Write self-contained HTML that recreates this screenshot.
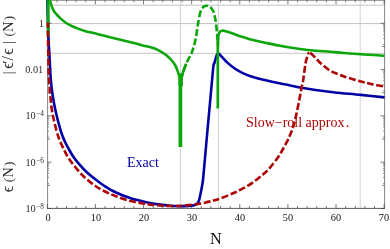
<!DOCTYPE html>
<html><head><meta charset="utf-8"><title>plot</title>
<style>
html,body{margin:0;padding:0;background:#fff;}
body{width:390px;height:249px;position:relative;overflow:hidden;font-family:"Liberation Serif",serif;}
.t{will-change:transform;position:absolute;white-space:nowrap;line-height:1;}
.sup{font-size:70%;position:relative;top:-0.55em;}
.rot{transform:translate(-50%,-50%) rotate(-90deg);}
</style></head><body>
<svg width="390" height="249" viewBox="0 0 390 249" style="position:absolute;left:0;top:0;will-change:transform"><defs><clipPath id="c"><rect x="46" y="0" width="339.8" height="209.5"/></clipPath></defs><line x1="180.4" y1="1" x2="180.4" y2="208" stroke="#d6d6d6" stroke-width="1.1"/><line x1="218.4" y1="1" x2="218.4" y2="208" stroke="#d6d6d6" stroke-width="1.1"/><line x1="360.2" y1="1" x2="360.2" y2="208" stroke="#d6d6d6" stroke-width="1.1"/><line x1="47" y1="5.2" x2="384" y2="5.2" stroke="#c4c4c4" stroke-width="1"/><line x1="47" y1="23.6" x2="384" y2="23.6" stroke="#c4c4c4" stroke-width="1"/><line x1="47" y1="53.3" x2="384" y2="53.3" stroke="#c4c4c4" stroke-width="1"/><path d="M47.6 0 V208.4 M384.6 0 V208.4 M47.2 0.3 H384.9" fill="none" stroke="#464646" stroke-width="0.66"/><path d="M47.2 208.4 H384.9" fill="none" stroke="#464646" stroke-width="0.9"/><path d="M47.5 163.50 h1.6 M384.6 163.50 h-1.6 M47.5 164.80 h1.6 M384.6 164.80 h-1.6 M47.5 166.40 h1.6 M384.6 166.40 h-1.6 M47.5 168.50 h1.6 M384.6 168.50 h-1.6 M47.5 170.70 h1.6 M384.6 170.70 h-1.6 M47.5 173.40 h1.6 M384.6 173.40 h-1.6 M47.5 177.40 h1.6 M384.6 177.40 h-1.6 M47.5 183.30 h1.6 M384.6 183.30 h-1.6 M47.5 117.20 h1.6 M384.6 117.20 h-1.6 M47.5 118.50 h1.6 M384.6 118.50 h-1.6 M47.5 120.10 h1.6 M384.6 120.10 h-1.6 M47.5 122.20 h1.6 M384.6 122.20 h-1.6 M47.5 124.40 h1.6 M384.6 124.40 h-1.6 M47.5 127.10 h1.6 M384.6 127.10 h-1.6 M47.5 131.10 h1.6 M384.6 131.10 h-1.6 M47.5 137.00 h1.6 M384.6 137.00 h-1.6 M47.5 70.90 h1.6 M384.6 70.90 h-1.6 M47.5 72.20 h1.6 M384.6 72.20 h-1.6 M47.5 73.80 h1.6 M384.6 73.80 h-1.6 M47.5 75.90 h1.6 M384.6 75.90 h-1.6 M47.5 78.10 h1.6 M384.6 78.10 h-1.6 M47.5 80.80 h1.6 M384.6 80.80 h-1.6 M47.5 84.80 h1.6 M384.6 84.80 h-1.6 M47.5 90.70 h1.6 M384.6 90.70 h-1.6 M47.5 24.60 h1.6 M384.6 24.60 h-1.6 M47.5 25.90 h1.6 M384.6 25.90 h-1.6 M47.5 27.50 h1.6 M384.6 27.50 h-1.6 M47.5 29.60 h1.6 M384.6 29.60 h-1.6 M47.5 31.80 h1.6 M384.6 31.80 h-1.6 M47.5 34.50 h1.6 M384.6 34.50 h-1.6 M47.5 38.50 h1.6 M384.6 38.50 h-1.6 M47.5 44.40 h1.6 M384.6 44.40 h-1.6" fill="none" stroke="#464646" stroke-width="0.55"/><path d="M47.3 208.4 v-4.4 M47.3 0.3 v4.0 M56.92 208.4 v-2.4 M56.92 0.3 v2.0 M66.55 208.4 v-2.4 M66.55 0.3 v2.0 M76.17 208.4 v-2.4 M76.17 0.3 v2.0 M85.8 208.4 v-2.4 M85.8 0.3 v2.0 M95.42 208.4 v-4.4 M95.42 0.3 v4.0 M105.04 208.4 v-2.4 M105.04 0.3 v2.0 M114.67 208.4 v-2.4 M114.67 0.3 v2.0 M124.29 208.4 v-2.4 M124.29 0.3 v2.0 M133.92 208.4 v-2.4 M133.92 0.3 v2.0 M143.54 208.4 v-4.4 M143.54 0.3 v4.0 M153.16 208.4 v-2.4 M153.16 0.3 v2.0 M162.79 208.4 v-2.4 M162.79 0.3 v2.0 M172.41 208.4 v-2.4 M172.41 0.3 v2.0 M182.04 208.4 v-2.4 M182.04 0.3 v2.0 M191.66 208.4 v-4.4 M191.66 0.3 v4.0 M201.28 208.4 v-2.4 M201.28 0.3 v2.0 M210.91 208.4 v-2.4 M210.91 0.3 v2.0 M220.53 208.4 v-2.4 M220.53 0.3 v2.0 M230.16 208.4 v-2.4 M230.16 0.3 v2.0 M239.78 208.4 v-4.4 M239.78 0.3 v4.0 M249.4 208.4 v-2.4 M249.4 0.3 v2.0 M259.03 208.4 v-2.4 M259.03 0.3 v2.0 M268.65 208.4 v-2.4 M268.65 0.3 v2.0 M278.28 208.4 v-2.4 M278.28 0.3 v2.0 M287.9 208.4 v-4.4 M287.9 0.3 v4.0 M297.52 208.4 v-2.4 M297.52 0.3 v2.0 M307.15 208.4 v-2.4 M307.15 0.3 v2.0 M316.77 208.4 v-2.4 M316.77 0.3 v2.0 M326.4 208.4 v-2.4 M326.4 0.3 v2.0 M336.02 208.4 v-4.4 M336.02 0.3 v4.0 M345.64 208.4 v-2.4 M345.64 0.3 v2.0 M355.27 208.4 v-2.4 M355.27 0.3 v2.0 M364.89 208.4 v-2.4 M364.89 0.3 v2.0 M374.52 208.4 v-2.4 M374.52 0.3 v2.0 M384.14 208.4 v-4.4 M384.14 0.3 v4.0 M47.5 208.5 h4 M384.6 208.5 h-4 M47.5 185.35 h2.5 M384.6 185.35 h-2.5 M47.5 162.2 h4 M384.6 162.2 h-4 M47.5 139.05 h2.5 M384.6 139.05 h-2.5 M47.5 115.9 h4 M384.6 115.9 h-4 M47.5 92.75 h2.5 M384.6 92.75 h-2.5 M47.5 69.6 h4 M384.6 69.6 h-4 M47.5 46.45 h2.5 M384.6 46.45 h-2.5 M47.5 23.3 h4 M384.6 23.3 h-4" fill="none" stroke="#464646" stroke-width="0.72"/><g clip-path="url(#c)" fill="none" stroke-linejoin="round"><path d="M47.30 -6.00 C47.37 -2.50 47.48 7.33 47.70 15.00 C47.92 22.67 48.27 32.50 48.60 40.00 C48.93 47.50 49.37 53.83 49.70 60.00 C50.03 66.17 50.12 71.17 50.60 77.00 C51.08 82.83 51.73 89.17 52.60 95.00 C53.47 100.83 54.43 106.00 55.80 112.00 C57.17 118.00 59.33 126.17 60.80 131.00 C62.27 135.83 63.23 137.92 64.60 141.00 C65.97 144.08 67.52 146.83 69.00 149.50 C70.48 152.17 71.92 154.68 73.50 157.00 C75.08 159.32 76.42 160.98 78.50 163.40 C80.58 165.82 83.32 168.93 86.00 171.50 C88.68 174.07 91.63 176.47 94.60 178.80 C97.57 181.13 100.33 183.27 103.80 185.50 C107.27 187.73 110.90 190.07 115.40 192.20 C119.90 194.33 125.67 196.63 130.80 198.30 C135.93 199.97 141.33 201.15 146.20 202.20 C151.07 203.25 155.97 204.02 160.00 204.60 C164.03 205.18 167.07 205.45 170.40 205.70 C173.73 205.95 177.43 206.03 180.00 206.10 C182.57 206.17 183.97 206.15 185.80 206.10 C187.63 206.05 189.47 205.97 191.00 205.80 C192.53 205.63 194.00 205.43 195.00 205.10 C196.00 204.77 196.45 204.28 197.00 203.80 C197.55 203.32 197.90 203.00 198.30 202.20 C198.70 201.40 199.05 200.28 199.40 199.00 C199.75 197.72 199.98 196.53 200.40 194.50 C200.82 192.47 201.42 189.72 201.90 186.80 C202.38 183.88 202.53 184.63 203.30 177.00 C204.07 169.37 205.42 153.00 206.50 141.00 C207.58 129.00 208.68 117.17 209.80 105.00 C210.92 92.83 212.45 74.92 213.20 68.00 C213.95 61.08 213.97 64.83 214.30 63.50 C214.63 62.17 214.82 61.33 215.20 60.00 C215.58 58.67 216.20 56.52 216.60 55.50 C217.00 54.48 217.30 54.23 217.60 53.90 C217.90 53.57 218.27 53.57 218.40 53.50 " stroke="#0000a6" stroke-width="2.6"/><path d="M218.40 53.50 C218.58 53.63 218.90 53.72 219.50 54.30 C220.10 54.88 220.68 55.62 222.00 57.00 C223.32 58.38 225.22 60.63 227.40 62.60 C229.58 64.57 232.53 67.05 235.10 68.80 C237.67 70.55 240.23 71.87 242.80 73.10 C245.37 74.33 247.93 75.30 250.50 76.20 C253.07 77.10 255.65 77.82 258.20 78.50 C260.75 79.18 263.50 79.75 265.80 80.30 C268.10 80.85 268.67 81.08 272.00 81.80 C275.33 82.52 280.82 83.60 285.80 84.60 C290.78 85.60 296.70 86.87 301.90 87.80 C307.10 88.73 311.48 89.42 317.00 90.20 C322.52 90.98 327.70 91.72 335.00 92.50 C342.30 93.28 352.53 94.08 360.80 94.90 C369.07 95.72 380.63 96.98 384.60 97.40" stroke="#0000a6" stroke-width="2.6"/><path d="M48.2 36 V-5" stroke="#0aa60a" stroke-width="3"/><path d="M49.20 -8.00 C49.33 -6.67 49.70 -2.00 50.00 0.00 C50.30 2.00 50.62 2.72 51.00 4.00 C51.38 5.28 51.77 6.45 52.30 7.70 C52.83 8.95 53.40 10.28 54.20 11.50 C55.00 12.72 55.97 13.77 57.10 15.00 C58.23 16.23 59.62 17.65 61.00 18.90 C62.38 20.15 63.90 21.47 65.40 22.50 C66.90 23.53 68.65 24.38 70.00 25.10 C71.35 25.82 72.17 26.22 73.50 26.80 C74.83 27.38 76.13 27.92 78.00 28.60 C79.87 29.28 81.48 30.02 84.70 30.90 C87.92 31.78 93.12 32.85 97.30 33.90 C101.48 34.95 105.62 36.15 109.80 37.20 C113.98 38.25 118.20 39.20 122.40 40.20 C126.60 41.20 131.23 42.23 135.00 43.20 C138.77 44.17 142.50 45.35 145.00 46.00 C147.50 46.65 147.88 46.47 150.00 47.10 C152.12 47.73 155.13 48.57 157.70 49.80 C160.27 51.03 163.35 53.03 165.40 54.50 C167.45 55.97 168.73 57.35 170.00 58.60 C171.27 59.85 172.12 60.85 173.00 62.00 C173.88 63.15 174.63 64.28 175.30 65.50 C175.97 66.72 176.48 68.00 177.00 69.30 C177.52 70.60 177.97 71.93 178.40 73.30 C178.83 74.67 179.40 76.80 179.60 77.50" stroke="#0aa60a" stroke-width="2.6"/><path d="M181.60 77.50 C181.75 76.92 182.10 75.33 182.50 74.00 C182.90 72.67 183.38 71.22 184.00 69.50 C184.62 67.78 185.37 65.62 186.20 63.70 C187.03 61.78 188.13 59.67 189.00 58.00 C189.87 56.33 190.73 55.20 191.40 53.70 C192.07 52.20 192.48 50.62 193.00 49.00 C193.52 47.38 193.97 46.17 194.50 44.00 C195.03 41.83 195.70 38.83 196.20 36.00 C196.70 33.17 197.08 29.67 197.50 27.00 C197.92 24.33 198.28 22.25 198.70 20.00 C199.12 17.75 199.53 15.25 200.00 13.50 C200.47 11.75 200.98 10.55 201.50 9.50 C202.02 8.45 202.52 7.77 203.10 7.20 C203.68 6.63 204.33 6.33 205.00 6.10 C205.67 5.87 206.35 5.73 207.10 5.80 C207.85 5.87 208.77 6.08 209.50 6.50 C210.23 6.92 210.92 7.58 211.50 8.30 C212.08 9.02 212.55 9.88 213.00 10.80 C213.45 11.72 213.85 12.60 214.20 13.80 C214.55 15.00 214.82 16.47 215.10 18.00 C215.38 19.53 215.65 21.17 215.90 23.00 C216.15 24.83 216.38 27.00 216.60 29.00 C216.82 31.00 217.03 33.17 217.20 35.00 C217.37 36.83 217.53 39.17 217.60 40.00" stroke="#0aa60a" stroke-width="2.6" stroke-dasharray="6.8 2.6" stroke-dashoffset="2.7"/><path d="M181.60 77.50 C181.75 76.92 182.10 75.33 182.50 74.00 C182.90 72.67 183.38 71.22 184.00 69.50 C184.62 67.78 185.83 64.67 186.20 63.70" stroke="#0aa60a" stroke-width="2.6"/><path d="M217.90 46.00 C217.95 44.67 218.05 40.00 218.20 38.00 C218.35 36.00 218.57 34.97 218.80 34.00 C219.03 33.03 219.27 32.67 219.60 32.20 C219.93 31.73 220.35 31.45 220.80 31.20 C221.25 30.95 221.77 30.78 222.30 30.70 C222.83 30.62 223.22 30.55 224.00 30.70 C224.78 30.85 225.42 31.08 227.00 31.60 C228.58 32.12 231.13 32.97 233.50 33.80 C235.87 34.63 238.65 35.75 241.20 36.60 C243.75 37.45 246.50 38.25 248.80 38.90 C251.10 39.55 252.30 39.87 255.00 40.50 C257.70 41.13 260.83 41.82 265.00 42.70 C269.17 43.58 275.00 44.88 280.00 45.80 C285.00 46.72 289.87 47.47 295.00 48.20 C300.13 48.93 304.97 49.62 310.80 50.20 C316.63 50.78 325.13 51.30 330.00 51.70 C334.87 52.10 334.87 52.17 340.00 52.60 C345.13 53.03 353.37 53.78 360.80 54.30 C368.23 54.82 380.63 55.47 384.60 55.70" stroke="#0aa60a" stroke-width="2.6"/><path d="M180.4 75 V147" stroke="#0aa60a" stroke-width="3.7"/><path d="M180.7 73.5 V86" stroke="#0aa60a" stroke-width="4.4"/><path d="M217.8 38 V108.6" stroke="#0aa60a" stroke-width="2.7"/><path d="M47.90 22.50 C47.92 25.42 47.92 33.75 48.00 40.00 C48.08 46.25 48.25 53.83 48.40 60.00 C48.55 66.17 48.58 71.00 48.90 77.00 C49.22 83.00 49.72 90.00 50.30 96.00 C50.88 102.00 51.35 107.17 52.40 113.00 C53.45 118.83 55.33 126.33 56.60 131.00 C57.87 135.67 58.82 138.00 60.00 141.00 C61.18 144.00 62.45 146.42 63.70 149.00 C64.95 151.58 66.07 154.10 67.50 156.50 C68.93 158.90 70.38 160.90 72.30 163.40 C74.22 165.90 76.68 168.93 79.00 171.50 C81.32 174.07 83.47 176.38 86.20 178.80 C88.93 181.22 92.43 183.97 95.40 186.00 C98.37 188.03 100.67 189.33 104.00 191.00 C107.33 192.67 110.93 194.32 115.40 196.00 C119.87 197.68 125.67 199.77 130.80 201.10 C135.93 202.43 141.33 203.27 146.20 204.00 C151.07 204.73 155.97 205.17 160.00 205.50 C164.03 205.83 167.40 205.92 170.40 206.00 C173.40 206.08 175.43 206.10 178.00 206.00 C180.57 205.90 181.93 205.83 185.80 205.40 C189.67 204.97 196.58 204.20 201.20 203.40 C205.82 202.60 210.23 201.45 213.50 200.60 C216.77 199.75 217.55 199.52 220.80 198.30 C224.05 197.08 229.67 194.77 233.00 193.30 C236.33 191.83 238.22 190.82 240.80 189.50 C243.38 188.18 245.93 186.98 248.50 185.40 C251.07 183.82 253.65 181.93 256.20 180.00 C258.75 178.07 261.50 175.85 263.80 173.80 C266.10 171.75 267.62 170.47 270.00 167.70 C272.38 164.93 275.98 160.23 278.10 157.20 C280.22 154.17 281.17 152.18 282.70 149.50 C284.23 146.82 286.02 143.65 287.30 141.10 C288.58 138.55 289.50 136.38 290.40 134.20 C291.30 132.02 292.07 129.87 292.70 128.00 C293.33 126.13 293.57 125.38 294.20 123.00 C294.83 120.62 295.60 117.82 296.50 113.70 C297.40 109.58 298.70 102.92 299.60 98.30 C300.50 93.68 301.32 88.90 301.90 86.00 C302.48 83.10 302.52 84.57 303.10 80.90 C303.68 77.23 304.82 67.65 305.40 64.00 C305.98 60.35 306.22 60.42 306.60 59.00 C306.98 57.58 307.37 56.45 307.70 55.50 C308.03 54.55 308.33 53.78 308.60 53.30 C308.87 52.82 309.18 52.72 309.30 52.60" stroke="#ad0505" stroke-width="2.6" stroke-dasharray="6.8 2.6" stroke-dashoffset="1.5"/><path d="M309.30 52.60 C309.50 52.67 310.05 52.70 310.50 53.00 C310.95 53.30 311.18 53.60 312.00 54.40 C312.82 55.20 314.23 56.58 315.40 57.80 C316.57 59.02 317.72 60.45 319.00 61.70 C320.28 62.95 321.20 63.78 323.10 65.30 C325.00 66.82 327.92 69.32 330.40 70.80 C332.88 72.28 335.50 73.18 338.00 74.20 C340.50 75.22 341.60 75.68 345.40 76.90 C349.20 78.12 356.37 80.28 360.80 81.50 C365.23 82.72 368.03 83.35 372.00 84.20 C375.97 85.05 382.50 86.20 384.60 86.60" stroke="#ad0505" stroke-width="2.6" stroke-dasharray="6.8 2.6" stroke-dashoffset="-1"/></g><g transform="rotate(-90)" fill="#2a2a2a" font-family="Liberation Serif"><text x="-74.16" y="12.6" font-size="13.6">|</text><text x="-68.68" y="12.6" font-size="16">&#1013;</text><text x="-63.73" y="12.6" font-size="15">&prime;</text><text x="-60.42" y="12.6" font-size="16">/</text><text x="-54.78" y="12.6" font-size="16">&#1013;</text><text x="-44.06" y="12.6" font-size="13.6">|</text><text x="-36.44" y="12.6" font-size="13">(</text><text x="-31.98" y="12.6" font-size="14.5">N</text><text x="-20.29" y="12.6" font-size="13">)</text></g><g transform="rotate(-90)" fill="#2a2a2a" font-family="Liberation Serif"><text x="-192.18" y="12.6" font-size="16">&#1013;</text><text x="-182.24" y="12.6" font-size="13">(</text><text x="-177.68" y="12.6" font-size="14.5">N</text><text x="-165.99" y="12.6" font-size="13">)</text></g><g fill="#2a2a2a" font-family="Liberation Serif"><text x="43.9" y="26.60" text-anchor="end" font-size="10.3">1</text><text x="43.2" y="72.90" text-anchor="end" font-size="10.3">0.01</text><text x="35.7" y="119.40" text-anchor="end" font-size="10.3">10</text><text x="36.1" y="116.20" font-size="7.3">&#8722;4</text><text x="35.7" y="165.70" text-anchor="end" font-size="10.3">10</text><text x="36.1" y="162.50" font-size="7.3">&#8722;6</text><text x="35.7" y="212.00" text-anchor="end" font-size="10.3">10</text><text x="36.1" y="208.80" font-size="7.3">&#8722;8</text></g></svg>
<div class="t" style="left:47.5px;top:212.5px;font-size:10.3px;color:#111;transform:translateX(-50%);">0</div><div class="t" style="left:95.62px;top:212.5px;font-size:10.3px;color:#111;transform:translateX(-50%);">10</div><div class="t" style="left:143.74px;top:212.5px;font-size:10.3px;color:#111;transform:translateX(-50%);">20</div><div class="t" style="left:191.86px;top:212.5px;font-size:10.3px;color:#111;transform:translateX(-50%);">30</div><div class="t" style="left:239.98000000000002px;top:212.5px;font-size:10.3px;color:#111;transform:translateX(-50%);">40</div><div class="t" style="left:288.1px;top:212.5px;font-size:10.3px;color:#111;transform:translateX(-50%);">50</div><div class="t" style="left:336.22px;top:212.5px;font-size:10.3px;color:#111;transform:translateX(-50%);">60</div><div class="t" style="left:384.34000000000003px;top:212.5px;font-size:10.3px;color:#111;transform:translateX(-50%);">70</div><div class="t" style="left:215.8px;top:230.9px;font-size:16.3px;color:#111;transform:translateX(-50%);">N</div><div class="t" style="left:127px;top:155.7px;font-size:14px;color:#0000a6;">Exact</div><div class="t" style="left:246px;top:116.3px;font-size:14px;color:#ad0505;">Slow&minus;roll approx<span style="margin-left:1.2px">.</span></div>
</body></html>
